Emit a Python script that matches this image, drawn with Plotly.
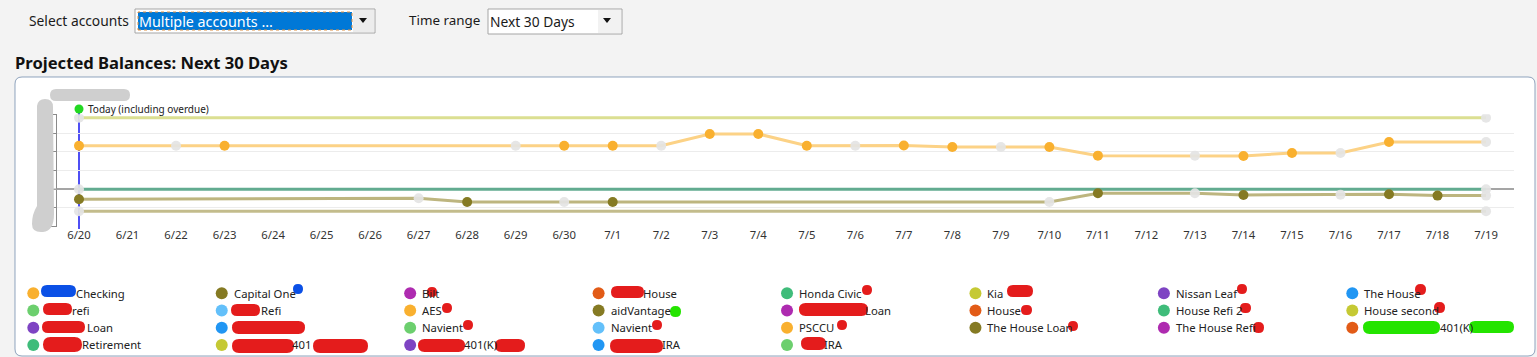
import plotly.graph_objects as go

W, H = 1537, 357

# ---------------- data ----------------
dates = ['6/20', '6/21', '6/22', '6/23', '6/24', '6/25', '6/26', '6/27', '6/28', '6/29',
         '6/30', '7/1', '7/2', '7/3', '7/4', '7/5', '7/6', '7/7', '7/8', '7/9',
         '7/10', '7/11', '7/12', '7/13', '7/14', '7/15', '7/16', '7/17', '7/18', '7/19']

# projected balances per account; *_proj = True -> grey "no transaction" point
second_dates = ['6/20', '7/19']
second_vals = [382000, 382000]
second_proj = [True, True]

checking_dates = ['6/20', '6/22', '6/23', '6/29', '6/30', '7/1', '7/2', '7/3', '7/4', '7/5', '7/6',
                  '7/7', '7/8', '7/9', '7/10', '7/11', '7/13', '7/14', '7/15', '7/16', '7/17', '7/19']
checking_vals = [232500, 232500, 232500, 232500, 232500, 232500, 232500, 295000, 295000, 232500, 232500,
                 233000, 225600, 225600, 225600, 179200, 179200, 177600, 193600, 193600, 252000, 252000]
checking_proj = [False, True, False, True, False, False, True, False, False, False, True,
                 False, False, True, False, False, True, False, False, True, False, True]

civic_dates = ['6/20', '7/19']
civic_vals = [0, 0]
civic_proj = [True, True]

capone_dates = ['6/20', '6/27', '6/28', '6/30', '7/1', '7/10', '7/11', '7/13', '7/14', '7/16',
                '7/17', '7/18', '7/19']
capone_vals = [-53300, -48000, -67700, -67700, -67700, -67700, -21300, -21300, -30400, -28800,
               -26700, -34100, -34100]
capone_proj = [False, True, False, True, False, True, False, True, False, True,
               False, False, True]

loan_dates = ['6/20', '7/19']
loan_vals = [-117300, -117300]
loan_proj = [True, True]

# legend entries (visible parts of the account names; the rest is redacted)
legend_names = [
    'Checking', 'Capital One', 'Bilt', 'House', 'Honda Civic', 'Kia', 'Nissan Leaf', 'The House',
    'refi', 'Refi', 'AES', 'aidVantage', 'Loan', 'House', 'House Refi 2', 'House second',
    'Loan', '', 'Navient', 'Navient', 'PSCCU', 'The House Loan', 'The House Refi', '401(K)',
    'Retirement', '401', '401(K)', 'IRA', 'IRA',
]
palette = ['#f9b02f', '#857a23', '#ae2bb0', '#e25b17', '#3fbc7a',
           '#c5c934', '#7e44c3', '#2196f3', '#6ccf6e', '#63c0fa']
legend_colors = [palette[i % len(palette)] for i in range(len(legend_names))]

# ---------------- helpers ----------------
def P(x):
    return x / W

def Q(y):
    return 1 - y / H

def idx(ds):
    return [dates.index(d) for d in ds]

GREY = 'rgba(228,228,228,0.92)'

def pt_colors(proj, col):
    return [GREY if p else col for p in proj]

def rpath(x0, y0, x1, y1, r, conv=True):
    f = (lambda a, b: f"{P(a):.6f},{Q(b):.6f}") if conv else (lambda a, b: f"{a},{b}")
    return (f"M{f(x0 + r, y0)} L{f(x1 - r, y0)} Q{f(x1, y0)} {f(x1, y0 + r)} "
            f"L{f(x1, y1 - r)} Q{f(x1, y1)} {f(x1 - r, y1)} L{f(x0 + r, y1)} "
            f"Q{f(x0, y1)} {f(x0, y1 - r)} L{f(x0, y0 + r)} Q{f(x0, y0)} {f(x0 + r, y0)} Z")

FONT = 'Noto Sans, Open Sans, sans-serif'

fig = go.Figure()

series = [
    (loan_dates, loan_vals, loan_proj, '#c3bc8c', '#857a23'),
    (civic_dates, civic_vals, civic_proj, '#62ab90', '#3fbc7a'),
    (capone_dates, capone_vals, capone_proj, '#bdb57f', '#857a23'),
    (checking_dates, checking_vals, checking_proj, '#fcd286', '#f9b02f'),
    (second_dates, second_vals, second_proj, '#dbdf92', '#c5c934'),
]
for ds, vs, pj, lc, mc in series:
    fig.add_trace(go.Scatter(
        x=idx(ds), y=vs, mode='lines+markers',
        line=dict(color=lc, width=3),
        marker=dict(size=10, color=pt_colors(pj, mc), line=dict(width=0)),
        hoverinfo='skip', xaxis='x', yaxis='y'))

# legend (custom grid)
n_cols = 8
lx = [33.3 + (i % n_cols) * 188.43 for i in range(len(legend_names))]
ly = [293.3 + (i // n_cols) * 17.2 for i in range(len(legend_names))]
fig.add_trace(go.Scatter(x=lx, y=ly, mode='markers',
                         marker=dict(size=12, color=legend_colors, line=dict(width=0)),
                         hoverinfo='skip', xaxis='x2', yaxis='y2'))

# horizontal room taken by the redacted start of some names (layout only)
label_shift = {0: 31, 3: 32, 8: 27, 9: 27, 12: 66, 16: 42, 23: 76, 24: 37, 25: 58,
               26: 42, 27: 51, 28: 25}

annotations = []
for i, (x, y, name) in enumerate(zip(lx, ly, legend_names)):
    if not name:
        continue
    annotations.append(dict(x=x + 10 + label_shift.get(i, 0), y=y, xref='x2', yref='y2', text=name,
                            showarrow=False, xanchor='left', yanchor='middle',
                            font=dict(family=FONT, size=11.3, color='#222222')))

def label(x, y, text, size=13.4, color='#1a1a1a', bold=False):
    annotations.append(dict(x=P(x), y=Q(y), xref='paper', yref='paper',
                            text=f'<b>{text}</b>' if bold else text, showarrow=False,
                            xanchor='left', yanchor='middle',
                            font=dict(family=FONT, size=size, color=color)))

label(27, 20, 'Select accounts', size=13.8)
label(137, 21, 'Multiple accounts ...', size=14.3, color='white')
label(407, 20, 'Time range')
label(488, 21, 'Next 30 Days', size=13.8)
label(13, 62, 'Projected Balances: Next 30 Days', size=16.6, color='#111111', bold=True)

annotations.append(dict(x=0, y=Q(108.5), xref='x', yref='paper', xshift=7,
                        text='Today (including overdue)', showarrow=False,
                        xanchor='left', yanchor='middle',
                        font=dict(family=FONT, size=10, color='#222222')))

shapes = []
# chart panel
shapes.append(dict(type='path', xref='paper', yref='paper', layer='below',
                   path=rpath(15, 77, 1535, 356, 7),
                   fillcolor='white', line=dict(color='#8fa3bd', width=1)))
# dropdown 1
shapes.append(dict(type='rect', xref='paper', yref='paper', x0=P(135), x1=P(375), y0=Q(33), y1=Q(9),
                   fillcolor='white', line=dict(color='#a5a5a5', width=1)))
shapes.append(dict(type='rect', xref='paper', yref='paper', x0=P(353), x1=P(374), y0=Q(32), y1=Q(10),
                   fillcolor='#ececec', line=dict(width=0)))
shapes.append(dict(type='rect', xref='paper', yref='paper', x0=P(138), x1=P(352), y0=Q(30), y1=Q(12),
                   fillcolor='#0078d7', line=dict(color='#e09040', width=1, dash='dot')))
shapes.append(dict(type='path', xref='paper', yref='paper',
                   path=f"M{P(359)},{Q(18)} L{P(367)},{Q(18)} L{P(363)},{Q(23)} Z",
                   fillcolor='#111111', line=dict(width=0)))
# dropdown 2
shapes.append(dict(type='rect', xref='paper', yref='paper', x0=P(488), x1=P(622), y0=Q(34), y1=Q(9),
                   fillcolor='white', line=dict(color='#a5a5a5', width=1)))
shapes.append(dict(type='rect', xref='paper', yref='paper', x0=P(598), x1=P(621), y0=Q(33), y1=Q(10),
                   fillcolor='#f2f2f2', line=dict(width=0)))
shapes.append(dict(type='path', xref='paper', yref='paper',
                   path=f"M{P(603)},{Q(18)} L{P(611)},{Q(18)} L{P(607)},{Q(23)} Z",
                   fillcolor='#111111', line=dict(width=0)))

# today marker line + dot
shapes.append(dict(type='line', xref='x', yref='paper', x0=0, x1=0, y0=Q(229), y1=Q(110),
                   line=dict(color='#1414f0', width=1.5), layer='below'))
shapes.append(dict(type='circle', xref='x', yref='paper', xsizemode='pixel', ysizemode='pixel',
                   xanchor=0, yanchor=Q(109), x0=-4.5, x1=4.5, y0=-4.5, y1=4.5,
                   fillcolor='#22d822', line=dict(width=0)))
# zero tick extension left of axis
shapes.append(dict(type='line', xref='paper', yref='y', x0=P(49), x1=P(57), y0=0, y1=0,
                   line=dict(color='#a0a0a0', width=1.5)))

# grey scribbles over the y labels
shapes.append(dict(type='path', xref='x2', yref='y2', path=rpath(50, 89, 130, 101, 6, conv=False),
                   fillcolor='#cfcfcf', line=dict(width=0)))
shapes.append(dict(type='path', xref='x2', yref='y2',
                   path="M37,106 Q38,99 45,99 Q53,99 53,107 L54,214 Q54,231 43,232 Q32,233 32,224 "
                        "Q32,214 37,206 Z",
                   fillcolor='#cfcfcf', line=dict(width=0)))

# redaction marks in the legend
RED, BLUE, GREEN = '#e41c1c', '#0b50e6', '#24e400'
marks = [
    (41, 285, 76, 297, BLUE), (293, 284, 303, 294, BLUE), (427, 287, 437, 297, RED),
    (611, 286, 644, 298, RED), (862, 285, 872, 295, RED), (1007, 285, 1033, 297, RED),
    (1237, 284, 1247, 294, RED), (1415, 284, 1426, 295, RED),
    (43, 303, 72, 315, RED), (231, 304, 260, 316, RED), (442, 303, 452, 313, RED),
    (670, 306, 681, 317, GREEN), (799, 303, 868, 316, RED), (1021, 305, 1032, 315, RED),
    (1240, 303, 1251, 313, RED), (1434, 302, 1445, 313, RED),
    (42, 321, 85, 333, RED), (232, 321, 305, 334, RED), (463, 320, 473, 330, RED),
    (652, 320, 662, 330, RED), (837, 320, 847, 330, RED), (1068, 321, 1078, 331, RED),
    (1253, 322, 1264, 333, RED), (1363, 321, 1440, 334, GREEN), (1469, 321, 1514, 333, GREEN),
    (43, 337, 82, 352, RED), (232, 339, 294, 353, RED), (313, 339, 368, 353, RED),
    (418, 339, 465, 352, RED), (495, 339, 525, 352, RED), (610, 339, 663, 353, RED),
    (801, 337, 826, 350, RED),
]
for x0, y0, x1, y1, c in marks:
    r = (y1 - y0) / 2
    shapes.append(dict(type='path', xref='x2', yref='y2',
                       path=rpath(x0, y0, x1, y1, min(r, (x1 - x0) / 2), conv=False),
                       fillcolor=c, line=dict(width=0)))

fig.update_layout(
    width=W, height=H,
    margin=dict(l=0, r=0, t=0, b=0, pad=0),
    paper_bgcolor='#f3f3f3', plot_bgcolor='rgba(0,0,0,0)',
    showlegend=False,
    font=dict(family=FONT, size=11, color='#333333'),
    xaxis=dict(domain=[P(57), P(1514)], range=[-0.4534, 29.576], anchor='y',
               tickmode='array', tickvals=list(range(len(dates))), ticktext=dates,
               showgrid=False, zeroline=False, showline=False, ticks='',
               tickfont=dict(family=FONT, size=11.3, color='#333333'),
               fixedrange=True),
    yaxis=dict(domain=[Q(226.7), Q(114.3)], range=[-200000, 400000], dtick=100000, anchor='x',
               showgrid=True, gridcolor='#ececec', gridwidth=1,
               zeroline=True, zerolinecolor='#a5a5a5', zerolinewidth=1.5,
               showline=True, linecolor='#8a8a8a', linewidth=1,
               ticks='outside', ticklen=5, tickcolor='#8a8a8a', showticklabels=False,
               fixedrange=True),
    xaxis2=dict(domain=[0, 1], range=[0, W], anchor='y2', visible=False, fixedrange=True),
    yaxis2=dict(domain=[0, 1], range=[H, 0], anchor='x2', visible=False, fixedrange=True),
    shapes=shapes,
    annotations=annotations,
)

fig.write_html('out.html', config={'displayModeBar': False},
               post_script="document.body.style.margin='0';document.body.style.background='#f3f3f3';")
